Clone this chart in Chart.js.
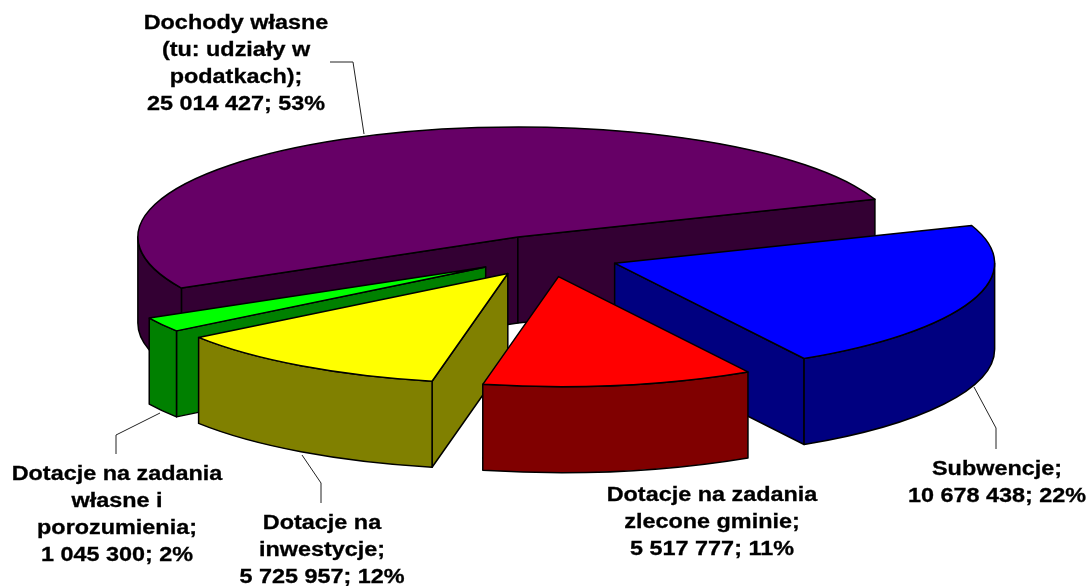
<!DOCTYPE html>
<html>
<head>
<meta charset="utf-8">
<title>Struktura dochodów</title>
<script src="https://cdn.jsdelivr.net/npm/chart.js@4/dist/chart.umd.js"></script>
<style>
  html, body { margin: 0; padding: 0; background: #fff; }
  canvas { display: block; }
</style>
</head>
<body>
<canvas id="pie" width="1087" height="586"></canvas>
<script>
'use strict';

// data, in the order the slices run clockwise
const categories = [
    ['Dochody własne', '(tu: udziały w', 'podatkach);'],
    ['Subwencje;'],
    ['Dotacje na zadania', 'zlecone gminie;'],
    ['Dotacje na', 'inwestycje;'],
    ['Dotacje na zadania', 'własne i', 'porozumienia;']
];
const values = [25014427, 10678438, 5517777, 5725957, 1045300];
const percents = [53, 22, 11, 12, 2];
const topColors = ['#660066', '#0000FF', '#FF0000', '#FFFF00', '#00FF00'];
const sideColors = ['#330033', '#000080', '#800000', '#808000', '#008000'];

// look of the 3d pie
const radius = 380;
const squash = 110 / 380;
const depth = 86;
const explode = 72;
const paintOrder = [0, 1, 4, 3, 2];

// where each label sits and how its leader runs
const labelCenters = [236, 997, 712, 322, 117];
const labelBaselines = [29, 475, 501, 529, 480];
const leaders = [
    [[330, 62], [353, 62], [364, 134]],
    [[974, 387], [996, 428], [996, 449]],
    [],
    [[302, 455], [321, 483], [321, 503]],
    [[160, 413], [116, 435], [116, 454]]
];

function formatValue(v) {
    return String(v).replace(/\B(?=(\d{3})+$)/g, ' ');
}

function sideWalls(ctx, x, y, r, start, end) {
    // curved wall, only the part that faces the viewer
    for (let k = -1; k <= 2; k++) {
        let a0 = Math.max(start, k * 2 * Math.PI);
        let a1 = Math.min(end, k * 2 * Math.PI + Math.PI);
        if (a1 <= a0) continue;
        ctx.beginPath();
        ctx.ellipse(x, y, r, r * squash, 0, a0, a1);
        ctx.ellipse(x, y + depth, r, r * squash, 0, a1, a0, true);
        ctx.closePath();
        ctx.fill();
        ctx.stroke();
    }
}

function radialWall(ctx, x, y, r, angle) {
    let ex = x + Math.cos(angle) * r;
    let ey = y + Math.sin(angle) * r * squash;
    ctx.beginPath();
    ctx.moveTo(x, y);
    ctx.lineTo(ex, ey);
    ctx.lineTo(ex, ey + depth);
    ctx.lineTo(x, y + depth);
    ctx.closePath();
    ctx.fill();
    ctx.stroke();
}

const pie3d = {
    id: 'pie3d',
    beforeDatasetsDraw(chart) {
        let ctx = chart.ctx;
        let arcs = chart.getDatasetMeta(0).data;

        for (let i of paintOrder) {
            let arc = arcs[i];
            let mid = (arc.startAngle + arc.endAngle) / 2;
            let dx = Math.cos(mid) * explode;
            let dy = Math.sin(mid) * explode;
            let x = arc.x + dx;
            let y = arc.y + dy * squash;
            let r = arc.outerRadius;

            ctx.save();
            ctx.lineWidth = 1.5;
            ctx.lineJoin = 'round';
            ctx.strokeStyle = '#000';
            ctx.fillStyle = sideColors[i];

            // walls first, the edge walls only if they face the viewer
            if (Math.cos(arc.startAngle) < 0) radialWall(ctx, x, y, r, arc.startAngle);
            if (Math.cos(arc.endAngle) > 0) radialWall(ctx, x, y, r, arc.endAngle);
            sideWalls(ctx, x, y, r, arc.startAngle, arc.endAngle);

            // top face is the library's own arc, flattened
            ctx.save();
            ctx.translate(arc.x, arc.y);
            ctx.scale(1, squash);
            ctx.translate(-arc.x + dx, -arc.y + dy);
            arc.draw(ctx);
            ctx.restore();

            ctx.beginPath();
            ctx.moveTo(x, y);
            ctx.ellipse(x, y, r, r * squash, 0, arc.startAngle, arc.endAngle);
            ctx.closePath();
            ctx.stroke();
            ctx.restore();
        }
        return false;
    },
    afterDraw(chart) {
        let ctx = chart.ctx;
        ctx.save();

        // leaders
        ctx.strokeStyle = '#222';
        ctx.lineWidth = 1;
        for (let line of leaders) {
            if (!line.length) continue;
            ctx.beginPath();
            line.forEach((p, n) => n ? ctx.lineTo(p[0], p[1]) : ctx.moveTo(p[0], p[1]));
            ctx.stroke();
        }

        // labels
        ctx.fillStyle = '#000';
        ctx.strokeStyle = '#000';
        ctx.lineWidth = 0.3;
        ctx.font = 'bold 20px "Liberation Sans"';
        ctx.textAlign = 'center';
        categories.forEach((lines, i) => {
            let all = lines.concat(formatValue(values[i]) + '; ' + percents[i] + '%');
            all.forEach((text, n) => {
                ctx.save();
                ctx.translate(labelCenters[i], labelBaselines[i] + n * 27);
                ctx.scale(1.17, 1);
                ctx.fillText(text, 0, 0);
                ctx.strokeText(text, 0, 0);
                ctx.restore();
            });
        });
        ctx.restore();
    }
};

new Chart(document.getElementById('pie'), {
    type: 'pie',
    data: {
        labels: categories.map(c => c.join(' ')),
        datasets: [{
            data: values,
            backgroundColor: topColors,
            borderWidth: 0
        }]
    },
    options: {
        responsive: false,
        animation: false,
        rotation: 242.3,
        radius: radius,
        layout: { padding: { left: 7, bottom: 74 } },
        plugins: {
            legend: { display: false },
            tooltip: { enabled: false }
        }
    },
    plugins: [pie3d]
});
</script>
</body>
</html>
